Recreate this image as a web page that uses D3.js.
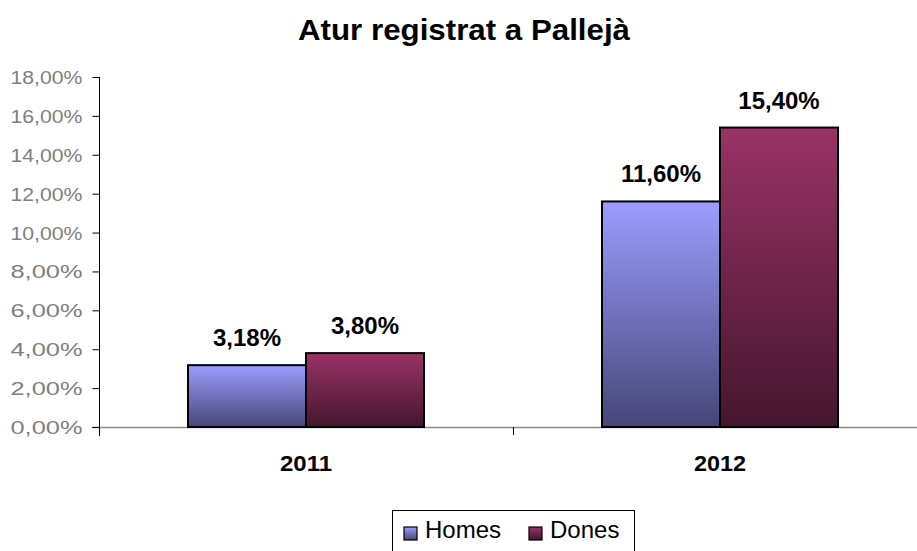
<!DOCTYPE html>
<html><head><meta charset="utf-8">
<script src="https://cdn.jsdelivr.net/npm/d3@7"></script>
<style>body{margin:0;background:#fff}svg{display:block;font-family:"Liberation Sans",Arial,sans-serif}</style>
</head><body>
<svg id="c" width="917" height="551"></svg>
<script>
const title = "Atur registrat a Pallejà";
const categories = ["2011", "2012"];
const seriesNames = ["Homes", "Dones"];
const homes = [3.18, 11.60];
const dones = [3.80, 15.40];
const yTicks = [0, 2, 4, 6, 8, 10, 12, 14, 16, 18];

const svg = d3.select("#c");
const fmt = v => v.toFixed(2).replace(".", ",") + "%";

const x = d3.scaleBand().domain(categories).range([99, 927]).paddingInner(0).paddingOuter(0);
const xs = d3.scaleBand().domain(seriesNames).range([0, 236]);
const y = d3.scaleLinear().domain([0, 18]).range([427, 77]);

const defs = svg.append("defs");
const grads = {Homes: ["#9c9cff", "#464678"], Dones: ["#993366", "#45162e"]};
Object.entries(grads).forEach(([k, c]) => {
  const g = defs.append("linearGradient").attr("id", "g" + k).attr("x1", 0).attr("y1", 0).attr("x2", 0).attr("y2", 1);
  g.append("stop").attr("offset", 0).attr("stop-color", c[0]);
  g.append("stop").attr("offset", 1).attr("stop-color", c[1]);
});

// title
svg.append("text").attr("x", 464).attr("y", 40).attr("text-anchor", "middle")
  .attr("font-size", 29).attr("font-weight", "bold")
  .attr("textLength", 332).attr("lengthAdjust", "spacingAndGlyphs").text(title);

// x axis line (gray)
svg.append("line").attr("x1", 92).attr("x2", 917).attr("y1", 427.5).attr("y2", 427.5)
  .attr("stroke", "#8c8c8c").attr("stroke-width", 1.5);
// category separator ticks
svg.append("g").selectAll("line").data([categories[1]]).join("line")
  .attr("x1", d => x(d) + 0.5).attr("x2", d => x(d) + 0.5).attr("y1", 427).attr("y2", 435)
  .attr("stroke", "#000");

// y axis
const yAxis = d3.axisLeft(y).tickValues(yTicks).tickFormat(fmt).tickSize(7).tickPadding(10);
const ya = svg.append("g").attr("transform", "translate(99.5,0)").call(yAxis);
ya.select(".domain").attr("stroke", "#000").attr("d", "M0,77V436");
ya.selectAll(".tick line").attr("stroke", "#000");
ya.selectAll(".tick text").attr("fill", "#7f7f7f").attr("font-size", 18)
  .attr("dy", "0.36em")
  .attr("textLength", 72).attr("lengthAdjust", "spacingAndGlyphs")
  .attr("font-family", "'Liberation Sans',Arial,sans-serif");

// bars
const data = [];
categories.forEach((c, i) => {
  data.push({c, s: "Homes", v: homes[i]});
  data.push({c, s: "Dones", v: dones[i]});
});
const off = (x.bandwidth() - 236) / 2;
svg.append("g").selectAll("rect").data(data).join("rect")
  .attr("x", d => x(d.c) + off + xs(d.s))
  .attr("y", d => y(d.v))
  .attr("width", xs.bandwidth())
  .attr("height", d => y(0) - y(d.v))
  .attr("fill", d => `url(#g${d.s})`)
  .attr("stroke", "#000").attr("stroke-width", 2);

// value labels
svg.append("g").selectAll("text").data(data).join("text")
  .attr("x", d => x(d.c) + off + xs(d.s) + xs.bandwidth() / 2)
  .attr("y", d => y(d.v) - 19)
  .attr("text-anchor", "middle").attr("font-size", 24).attr("font-weight", "bold")
  .text(d => fmt(d.v));

// category labels
svg.append("g").selectAll("text").data(categories).join("text")
  .attr("x", d => x(d) + x.bandwidth() / 2).attr("y", 471)
  .attr("text-anchor", "middle").attr("font-size", 22).attr("font-weight", "bold")
  .attr("textLength", 52).attr("lengthAdjust", "spacingAndGlyphs")
  .text(d => d);

// legend
const lg = svg.append("g");
lg.append("rect").attr("x", 392.5).attr("y", 510.5).attr("width", 242).attr("height", 50)
  .attr("fill", "#fff").attr("stroke", "#000");
const lx = [404, 529];
seriesNames.forEach((s, i) => {
  lg.append("rect").attr("x", lx[i]).attr("y", 527).attr("width", 13).attr("height", 13)
    .attr("fill", `url(#g${s})`).attr("stroke", "#000").attr("stroke-width", 1.2);
  lg.append("text").attr("x", lx[i] + 21).attr("y", 538).attr("font-size", 24).text(s);
});
</script>
</body></html>
